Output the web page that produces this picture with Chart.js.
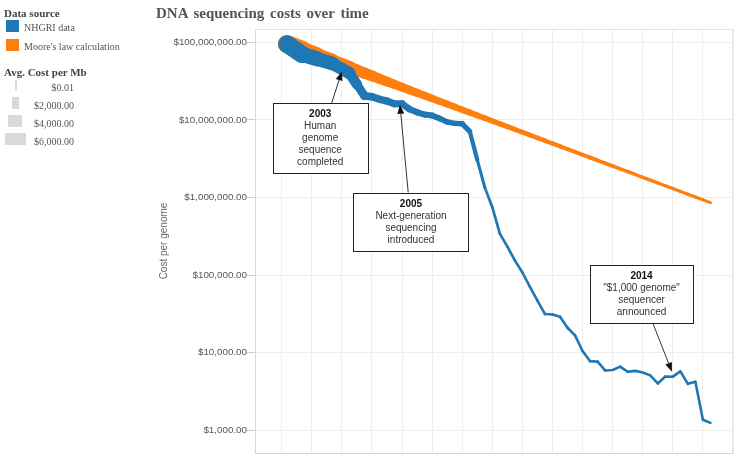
<!DOCTYPE html>
<html>
<head>
<meta charset="utf-8">
<script src="https://cdn.jsdelivr.net/npm/chart.js@4.4.1/dist/chart.umd.min.js"></script>
<style>
  body { margin: 0; background: #fff; }
  #wrap { position: relative; width: 736px; height: 454px; overflow: hidden; }
  #c { position: absolute; left: 0; top: 0; }
  #title { position: absolute; left: 156px; top: 5px; font: bold 15px "Liberation Serif", "Times New Roman", serif; color: #555; word-spacing: 2px; white-space: nowrap; }
  .lg { position: absolute; font-family: "Liberation Serif", "Times New Roman", serif; white-space: nowrap; line-height: 12px; }
  .head { font-size: 11px; font-weight: bold; color: #444; left: 4px; }
  .item { font-size: 10px; color: #555; left: 24px; }
  .size { font-size: 10px; color: #555; right: 662px; text-align: right; }
  .sw { position: absolute; }
  .gray { background: #d9d9d9; }
</style>
</head>
<body>
<div id="wrap">
  <canvas id="c" width="736" height="454"></canvas>
  <div id="title">DNA sequencing costs over time</div>

  <div class="lg head" style="top:7px">Data source</div>
  <div class="sw" style="left:6px;top:20px;width:13px;height:12px;background:#1f77b4"></div>
  <div class="lg item" style="top:22px">NHGRI data</div>
  <div class="sw" style="left:6px;top:39px;width:13px;height:12px;background:#ff7f0e"></div>
  <div class="lg item" style="top:41px">Moore's law calculation</div>

  <div class="lg head" style="top:66px">Avg. Cost per Mb</div>
  <div class="sw gray" style="left:15px;top:80px;width:2px;height:11px"></div>
  <div class="lg size" style="top:82px">$0.01</div>
  <div class="sw gray" style="left:12px;top:97px;width:7px;height:12px"></div>
  <div class="lg size" style="top:100px">$2,000.00</div>
  <div class="sw gray" style="left:8px;top:115px;width:14px;height:12px"></div>
  <div class="lg size" style="top:118px">$4,000.00</div>
  <div class="sw gray" style="left:5px;top:133px;width:21px;height:12px"></div>
  <div class="lg size" style="top:136px">$6,000.00</div>
</div>
<script>
// sampling dates as decimal years
const dates = [2001.67, 2002.17, 2002.67, 2003.17, 2003.75,
  2004.0, 2004.25, 2004.5, 2004.75, 2005.0, 2005.25, 2005.5, 2005.75,
  2006.0, 2006.25, 2006.5, 2006.75, 2007.0, 2007.25, 2007.5, 2007.75,
  2008.0, 2008.25, 2008.5, 2008.75, 2009.0, 2009.25, 2009.5, 2009.75,
  2010.0, 2010.25, 2010.5, 2010.75, 2011.0, 2011.25, 2011.5, 2011.75,
  2012.0, 2012.25, 2012.5, 2012.75, 2013.0, 2013.25, 2013.5, 2013.75,
  2014.0, 2014.25, 2014.5, 2014.75, 2015.0, 2015.25, 2015.5, 2015.75];

// NHGRI cost per genome
const nhgriCost = [95263072, 70175437, 61448422, 53751684, 40153899,
  28780376, 20442576, 19934346, 18519312, 17534970, 16159699, 16180224, 13801124,
  12585659, 11732535, 11455315, 10474556, 9408739, 9047003, 8927342, 7147571,
  3063820, 1352982, 752080, 342502, 232735, 154714, 108065, 70333,
  46774, 31512, 31125, 29092, 20963, 16712, 10497, 7743,
  7666, 5901, 5985, 6618, 5671, 5826, 5550, 5096,
  4008, 4920, 4905, 5731, 3970, 4211, 1363, 1245];

// NHGRI average cost per Mb (drives line thickness)
const nhgriPerMb = [5292.39, 3898.64, 3413.80, 2986.20, 2230.98,
  1598.91, 1135.70, 1107.46, 1028.85, 974.16, 897.76, 898.90, 766.73,
  699.20, 651.81, 636.41, 581.92, 522.71, 502.61, 495.96, 397.09,
  102.13, 15.03, 8.36, 3.81, 2.59, 1.72, 1.20, 0.78,
  0.52, 0.35, 0.35, 0.32, 0.23, 0.19, 0.12, 0.09,
  0.09, 0.07, 0.07, 0.07, 0.06, 0.06, 0.06, 0.06,
  0.04, 0.05, 0.05, 0.06, 0.04, 0.05, 0.01, 0.01];

// Moore's law cost per genome
const mooreCost = [95260000, 80600000, 68190000, 57700000, 47530000,
  43720000, 40210000, 36980000, 34010000, 31290000, 28780000, 26470000, 24350000,
  22390000, 20600000, 18950000, 17430000, 16030000, 14750000, 13560000, 12480000,
  11480000, 10560000, 9710000, 8932000, 8214000, 7556000, 6950000, 6393000,
  5880000, 5409000, 4976000, 4577000, 4210000, 3873000, 3562000, 3276000,
  3013000, 2772000, 2550000, 2345000, 2157000, 1984000, 1825000, 1679000,
  1544000, 1421000, 1306000, 1201000, 1105000, 1016000, 935000, 860000];

// Moore's law cost per Mb
const moorePerMb = [5292, 4462, 3762, 3172, 2602,
  2391, 2194, 2015, 1850, 1699, 1560, 1432, 1315,
  1208, 1109, 1018, 935, 858, 788, 724, 665,
  610, 560, 515, 472, 434, 398, 366, 336,
  308, 283, 260, 239, 219, 201, 185, 170,
  156, 143, 131, 121, 111, 102, 93.4, 85.8,
  78.8, 72.3, 66.4, 61.0, 56.0, 51.4, 47.2, 43.3];

const yTicks = [1000, 10000, 100000, 1000000, 10000000, 100000000];
const xGridYears = [2001.5, 2002.5, 2003.5, 2004.5, 2005.5, 2006.5, 2007.5, 2008.5,
  2009.5, 2010.5, 2011.5, 2012.5, 2013.5, 2014.5, 2015.5, 2016.5];

// annotations: arrow tip on the data
const noteYears = [2003.5, 2005.43, 2014.47];
const noteCosts = [42300000, 15700000, 5690];
const noteLines = [
  ['2003', 'Human', 'genome', 'sequence', 'completed'],
  ['2005', 'Next-generation', 'sequencing', 'introduced'],
  ['2014', '"$1,000 genome"', 'sequencer', 'announced']
];
// box centre offset from tip and box width (pixels)
const noteBoxes = [
  { dx: -21.7, dy: 67, w: 95 },
  { dx: 11, dy: 116.7, w: 115 },
  { dx: -30.4, dy: -77.2, w: 103 }
];

const sansFont = '"Liberation Sans", Arial, sans-serif';

function widthFor(mb) {
  return 2.6 + 0.0267 * Math.pow(mb, 0.75);
}

function points(costs) {
  return dates.map((d, i) => ({ x: d, y: costs[i] }));
}

const frame = {
  id: 'frame',
  beforeDatasetsDraw(chart) {
    const a = chart.chartArea;
    const ctx = chart.ctx;
    ctx.save();
    ctx.strokeStyle = '#e4e4e4';
    ctx.lineWidth = 1;
    ctx.beginPath();
    ctx.moveTo(a.left, a.top + 0.5);
    ctx.lineTo(a.right - 0.5, a.top + 0.5);
    ctx.lineTo(a.right - 0.5, a.bottom);
    ctx.stroke();
    ctx.restore();
  }
};

const notes = {
  id: 'notes',
  afterDraw(chart) {
    const ctx = chart.ctx;
    const xs = chart.scales.x, ys = chart.scales.y;
    ctx.save();
    noteLines.forEach((lines, i) => {
      const tx = xs.getPixelForValue(noteYears[i]);
      const ty = ys.getPixelForValue(noteCosts[i]);
      const b = noteBoxes[i];
      const cx = tx + b.dx, cy = ty + b.dy;
      const hw = b.w / 2, hh = (lines.length * 12 + 10) / 2;
      // arrow from box edge to tip
      const ddx = tx - cx, ddy = ty - cy;
      const t = Math.min(hw / Math.abs(ddx || 1e-6), hh / Math.abs(ddy || 1e-6));
      const sx = cx + ddx * t, sy = cy + ddy * t;
      const ang = Math.atan2(ty - sy, tx - sx);
      const hl = 9, hwid = 3.5;
      const bx = tx - hl * Math.cos(ang), by = ty - hl * Math.sin(ang);
      ctx.strokeStyle = '#333';
      ctx.lineWidth = 1;
      ctx.beginPath();
      ctx.moveTo(sx, sy);
      ctx.lineTo(bx, by);
      ctx.stroke();
      ctx.fillStyle = '#111';
      ctx.beginPath();
      ctx.moveTo(tx, ty);
      ctx.lineTo(bx - hwid * Math.sin(ang), by + hwid * Math.cos(ang));
      ctx.lineTo(bx + hwid * Math.sin(ang), by - hwid * Math.cos(ang));
      ctx.closePath();
      ctx.fill();
      // box
      const left = Math.round(cx - hw) + 0.5, top = Math.round(cy - hh) + 0.5;
      ctx.fillStyle = '#fff';
      ctx.fillRect(left, top, b.w, hh * 2);
      ctx.strokeStyle = '#222';
      ctx.strokeRect(left, top, b.w, hh * 2);
      ctx.textAlign = 'center';
      ctx.textBaseline = 'middle';
      lines.forEach((s, k) => {
        ctx.font = (k === 0 ? 'bold ' : '') + '10px ' + sansFont;
        ctx.fillStyle = k === 0 ? '#111' : '#333';
        ctx.fillText(s, cx, top + 11 + k * 12);
      });
    });
    ctx.restore();
  }
};

new Chart(document.getElementById('c'), {
  type: 'line',
  data: {
    datasets: [
      {
        label: 'NHGRI data',
        data: points(nhgriCost),
        borderColor: '#1f77b4',
        borderCapStyle: 'round',
        borderJoinStyle: 'round',
        pointRadius: 0,
        tension: 0,
        order: 0,
        segment: {
          borderWidth: ctx => (widthFor(nhgriPerMb[ctx.p0DataIndex]) + widthFor(nhgriPerMb[ctx.p1DataIndex])) / 2
        }
      },
      {
        label: "Moore's law calculation",
        data: points(mooreCost),
        borderColor: '#ff7f0e',
        borderCapStyle: 'round',
        borderJoinStyle: 'round',
        pointRadius: 0,
        tension: 0,
        order: 1,
        segment: {
          borderWidth: ctx => (widthFor(moorePerMb[ctx.p0DataIndex]) + widthFor(moorePerMb[ctx.p1DataIndex])) / 2
        }
      }
    ]
  },
  options: {
    responsive: false,
    animation: false,
    devicePixelRatio: 1,
    layout: { padding: { left: 158, top: 29, right: 3, bottom: 1 } },
    plugins: {
      legend: { display: false },
      tooltip: { enabled: false }
    },
    scales: {
      x: {
        type: 'linear',
        min: 2000.612,
        max: 2016.5,
        afterBuildTicks: s => { s.ticks = xGridYears.map(v => ({ value: v })); },
        afterFit: s => { s.height = 0; s.paddingLeft = 0; s.paddingRight = 0; },
        ticks: { display: false },
        grid: { color: '#eeeeee', drawTicks: false },
        border: { color: '#d8d8d8' }
      },
      y: {
        type: 'logarithmic',
        min: 509,
        max: 149000000,
        afterBuildTicks: s => { s.ticks = yTicks.map(v => ({ value: v })); },
        afterFit: s => { s.width = 97; s.paddingTop = 0; s.paddingBottom = 0; },
        ticks: {
          callback: v => '$' + Number(v).toLocaleString('en-US', { minimumFractionDigits: 2, maximumFractionDigits: 2 }),
          font: { family: sansFont, size: 9.8 },
          color: '#555',
          padding: 0
        },
        grid: { color: '#eeeeee', tickColor: '#cccccc', tickLength: 8 },
        border: { color: '#d8d8d8' },
        title: {
          display: true,
          text: 'Cost per genome',
          font: { family: sansFont, size: 10 },
          color: '#666',
          padding: { top: 0, bottom: 0 }
        }
      }
    }
  },
  plugins: [frame, notes]
});
</script>
</body>
</html>
